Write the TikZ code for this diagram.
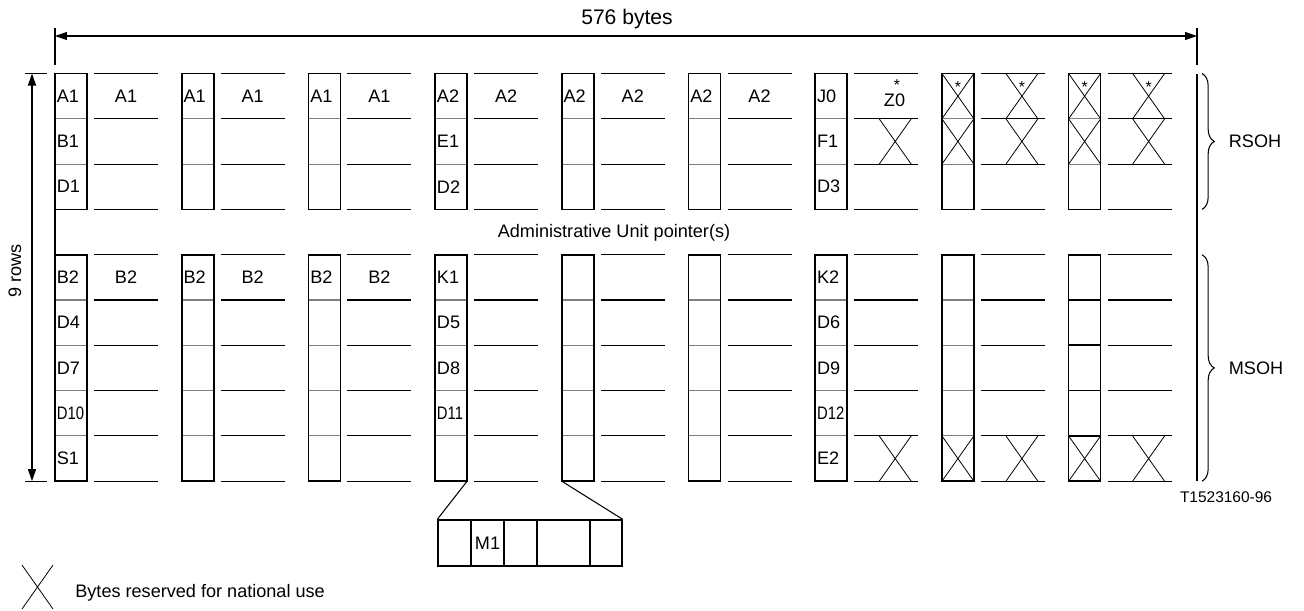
\documentclass[tikz,border=0pt]{standalone}
\usepackage{fontspec}
\setmainfont{Liberation Sans}
\usetikzlibrary{arrows.meta,decorations.pathreplacing}
\newcommand{\squeezed}[1]{\scalebox{0.82}[1]{#1}}
\begin{document}
\begin{tikzpicture}[x=0.02cm, y=-0.02cm, >={Triangle[length=2.4mm,width=1.6mm]},
    every node/.style={font=\fontsize{10.3}{12}\selectfont, inner sep=0pt},
    framebox/.style={line width=1pt},
    sepline/.style={draw=black!50, line width=0.6pt},
    rule/.style={line width=0.6pt},
    natl/.style={line width=0.45pt},
    star/.style={font=\fontsize{9}{9}\selectfont},
    brc/.style={decorate, decoration={brace, amplitude=7pt}, line width=0.6pt}]
\useasboundingbox (0,0) rectangle (1304,610);
\coordinate (w) at (55,36); \coordinate (e) at (1197,36);
\draw[rule] (55,28) -- (55,65) (1197,28) -- (1197,65);
\draw[<->, rule] (w) -- (e);
\node[font=\fontsize{12}{14}\selectfont] (nb) at (627,19) {576 bytes};
\coordinate (t) at (32,73.5); \coordinate (b) at (32,481.2);
\draw[rule] (25,73.5) -- (47,73.5) (25,481.2) -- (47,481.2);
\draw[<->, rule] (t) -- (b);
\node[rotate=90] (nr) at (15,271) {9 rows};
\foreach \g in {0,...,8}{
  \pgfmathsetmacro\bx{55+126.7*\g}
  \foreach \r in {1,2,5,6,7,8}
    \draw[sepline] (\bx,73.5+45.3*\r) -- ++(32,0);
  \draw[framebox] (\bx,73.5) rectangle ++(32,135.9);
  \draw[framebox] (\bx,254.7) rectangle ++(32,226.5);
  \foreach \r in {0,...,9}
    \draw[rule] (\bx+39,73.5+45.3*\r) -- ++(64,0);
}
\foreach \r in {5,...,8}
  \draw[framebox] (1068.6,73.5+45.3*\r) -- ++(32,0);
\draw[framebox] (55,73.5) -- (55,481.2) (1197,73.5) -- (1197,481.2);
\foreach \g/\r/\t in {0/0/A1,0/1/B1,0/2/D1,0/4/B2,0/5/D4,0/6/D7,0/7/\squeezed{D10},0/8/S1,
    1/0/A1,1/4/B2,2/0/A1,2/4/B2,
    3/0/A2,3/1/E1,3/2/D2,3/4/K1,3/5/D5,3/6/D8,3/7/\squeezed{D11},
    4/0/A2,5/0/A2,
    6/0/J0,6/1/F1,6/2/D3,6/4/K2,6/5/D6,6/6/D9,6/7/\squeezed{D12},6/8/E2}
  \node[anchor=west] (b\g-\r) at (55+126.7*\g+1.5,96.15+45.3*\r) {\t};
\foreach \g/\r/\t in {0/0/A1,1/0/A1,2/0/A1,3/0/A2,4/0/A2,5/0/A2,0/4/B2,1/4/B2,2/4/B2}
  \node (l\g-\r) at (55+126.7*\g+71,96.15+45.3*\r) {\t};
\node (z0) at (894.5,100) {Z0};
\node[star] (sz) at (897,85) {*};
\foreach \g/\r in {6/1,6/8,7/0,7/1,7/8,8/0,8/1,8/8}
  \draw[natl] (55+126.7*\g+64,73.5+45.3*\r) -- ++(32,45.3) ++(-32,0) -- ++(32,-45.3);
\foreach \g/\r in {7/0,7/1,7/8,8/0,8/1,8/8}
  \draw[natl] (55+126.7*\g,73.5+45.3*\r) -- ++(32,45.3) ++(-32,0) -- ++(32,-45.3);
\foreach \x [count=\i] in {957.9,1022,1084.6,1148.6}
  \node[star] (s\i) at (\x,87) {*};
\node (au) at (614,233) {Administrative Unit pointer(s)};
\draw[brc] (1202,73.5) -- (1202,209.4);
\draw[brc] (1202,254.7) -- (1202,481.2);
\node (rs) at (1255,141) {RSOH};
\node (ms) at (1256,368) {MSOH};
\node[font=\fontsize{8.8}{10}\selectfont] (fig) at (1226,497) {T1523160-96};
\node[draw, line width=0.8pt, minimum width=3.68cm, minimum height=0.92cm] (m) at (530,543) {};
\foreach \x in {471,504,537,590}
  \draw[line width=0.8pt] (\x,520) -- (\x,566);
\node (m1) at (487.5,543) {M1};
\coordinate (k1) at (467.1,481.2); \coordinate (p5) at (561.8,481.2);
\draw[rule] (k1) -- (m.north west);
\draw[rule] (p5) -- (m.north east);
\draw[natl] (22,565) -- (53,609) (22,609) -- (53,565);
\node[anchor=west] (lg) at (75,593) {Bytes reserved for national use};
\end{tikzpicture}
\end{document}
